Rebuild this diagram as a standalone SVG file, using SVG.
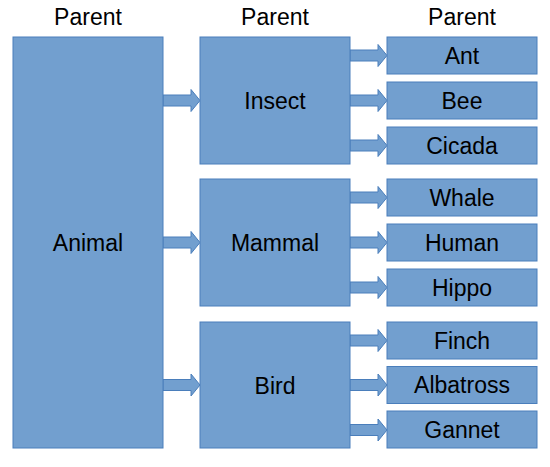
<svg xmlns="http://www.w3.org/2000/svg" width="550" height="467" viewBox="0 0 550 467">
<style>
.box{fill:#729fcf;stroke:#4a7ebb;stroke-width:1}
.arr{fill:#729fcf;stroke:#4a7ebb;stroke-width:1}
text{font-family:"Liberation Sans",Arial,sans-serif;font-size:23px;fill:#000;text-anchor:middle}
</style>
<defs>
<polygon id="a1" class="arr" points="0,-5.5 28,-5.5 28,-11 37,0 28,11 28,5.5 0,5.5"/>
</defs>
<g id="headers">
<text x="88" y="24.5">Parent</text>
<text x="275" y="24.5">Parent</text>
<text x="462" y="24.5">Parent</text>
</g>
<g id="connectors">
<use href="#a1" x="163" y="100.5"/>
<use href="#a1" x="163" y="242.5"/>
<use href="#a1" x="163" y="385"/>
<use href="#a1" x="350" y="55.5"/>
<use href="#a1" x="350" y="100.5"/>
<use href="#a1" x="350" y="145.5"/>
<use href="#a1" x="350" y="197.5"/>
<use href="#a1" x="350" y="242.5"/>
<use href="#a1" x="350" y="287.5"/>
<use href="#a1" x="350" y="340.5"/>
<use href="#a1" x="350" y="385"/>
<use href="#a1" x="350" y="430"/>
</g>
<g id="animal"><rect class="box" x="13" y="37" width="150" height="411"/><text x="88" y="251">Animal</text></g>
<g id="insect"><rect class="box" x="200" y="37" width="150" height="127"/><text x="275" y="109">Insect</text></g>
<g id="mammal"><rect class="box" x="200" y="179" width="150" height="127"/><text x="275" y="251">Mammal</text></g>
<g id="bird"><rect class="box" x="200" y="322" width="150" height="126"/><text x="275" y="393.5">Bird</text></g>
<g id="ant"><rect class="box" x="387" y="37" width="150" height="37"/><text x="462" y="63.5">Ant</text></g>
<g id="bee"><rect class="box" x="387" y="82" width="150" height="37"/><text x="462" y="108.5">Bee</text></g>
<g id="cicada"><rect class="box" x="387" y="127" width="150" height="37"/><text x="462" y="153.5">Cicada</text></g>
<g id="whale"><rect class="box" x="387" y="179" width="150" height="37"/><text x="462" y="205.5">Whale</text></g>
<g id="human"><rect class="box" x="387" y="224" width="150" height="37"/><text x="462" y="250.5">Human</text></g>
<g id="hippo"><rect class="box" x="387" y="269" width="150" height="37"/><text x="462" y="295.5">Hippo</text></g>
<g id="finch"><rect class="box" x="387" y="322" width="150" height="37"/><text x="462" y="348.5">Finch</text></g>
<g id="albatross"><rect class="box" x="387" y="366.5" width="150" height="37"/><text x="462" y="393">Albatross</text></g>
<g id="gannet"><rect class="box" x="387" y="411" width="150" height="37"/><text x="462" y="437.5">Gannet</text></g>
</svg>
